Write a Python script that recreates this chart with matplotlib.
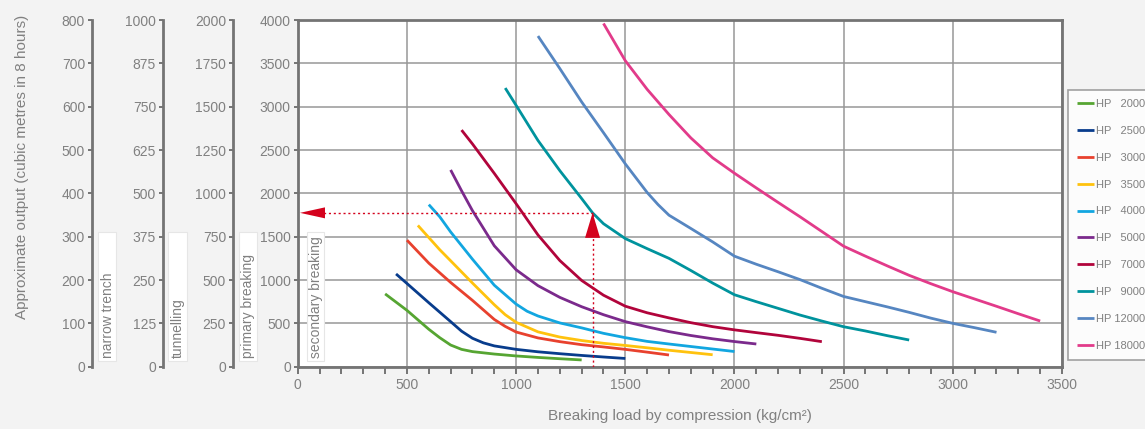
import matplotlib
matplotlib.use("Agg")
import matplotlib.pyplot as plt
from matplotlib.patches import Rectangle
from matplotlib.ticker import MultipleLocator

# ---------------- data ----------------
models = ["2000", "2500", "3000", "3500", "4000", "5000", "7000", "9000", "12000", "18000"]
colors = ["#56a532", "#083c8c", "#e8412e", "#ffc20e", "#12a6e0",
          "#7b2a8c", "#b1043b", "#00939d", "#5686c1", "#e23b8a"]

hp2000_x = [400, 500, 600, 650, 700, 750, 800, 900, 1000, 1100, 1200, 1300]
hp2000_y = [840, 650, 432, 335, 250, 200, 174, 146, 124, 107, 92, 78]

hp2500_x = [450, 500, 600, 700, 750, 800, 850, 900, 1000, 1100, 1200, 1300, 1400, 1500]
hp2500_y = [1070, 960, 738, 520, 410, 328, 275, 240, 200, 172, 150, 130, 112, 95]

hp3000_x = [500, 600, 700, 800, 900, 950, 1000, 1100, 1200, 1300, 1400, 1500, 1600, 1700]
hp3000_y = [1460, 1195, 972, 765, 545, 465, 400, 332, 289, 254, 228, 200, 168, 135]

hp3500_x = [550, 600, 650, 700, 800, 900, 950, 1000, 1100, 1200, 1300, 1400, 1500, 1600,
            1700, 1800, 1900]
hp3500_y = [1630, 1490, 1350, 1222, 965, 715, 600, 512, 402, 342, 302, 270, 245, 218,
            190, 164, 138]

hp4000_x = [600, 650, 700, 800, 900, 1000, 1050, 1100, 1200, 1300, 1400, 1500, 1600, 1700,
            1800, 1900, 2000]
hp4000_y = [1870, 1730, 1555, 1240, 940, 722, 640, 585, 505, 448, 385, 335, 292, 262,
            233, 204, 175]

hp5000_x = [700, 750, 800, 900, 1000, 1100, 1200, 1300, 1400, 1500, 1600, 1700, 1800, 1900,
            2000, 2100]
hp5000_y = [2270, 2030, 1800, 1395, 1118, 935, 800, 692, 600, 520, 460, 405, 360, 322,
            290, 262]

hp7000_x = [750, 800, 900, 1000, 1100, 1200, 1300, 1400, 1500, 1600, 1700, 1800, 1900, 2000,
            2100, 2200, 2300, 2400]
hp7000_y = [2730, 2570, 2230, 1880, 1520, 1225, 995, 825, 698, 622, 563, 508, 462, 425,
            393, 362, 327, 289]

hp9000_x = [950, 1000, 1100, 1200, 1300, 1350, 1400, 1500, 1600, 1700, 1800, 1900, 2000,
            2100, 2200, 2300, 2400, 2500, 2600, 2700, 2800]
hp9000_y = [3215, 3015, 2610, 2262, 1940, 1775, 1650, 1478, 1362, 1250, 1110, 965, 830,
            750, 673, 596, 527, 461, 412, 358, 308]

hp12000_x = [1100, 1200, 1300, 1400, 1500, 1600, 1650, 1700, 1800, 1900, 2000, 2100, 2200,
             2300, 2400, 2500, 2600, 2700, 2800, 2900, 3000, 3100, 3200]
hp12000_y = [3815, 3440, 3055, 2700, 2340, 2010, 1870, 1748, 1595, 1440, 1275, 1182, 1095,
             1005, 905, 810, 750, 690, 627, 560, 500, 450, 397]

hp18000_x = [1400, 1500, 1600, 1700, 1800, 1900, 2000, 2100, 2200, 2300, 2400, 2500, 2600,
             2700, 2800, 2900, 3000, 3100, 3200, 3300, 3400]
hp18000_y = [3960, 3530, 3200, 2910, 2640, 2410, 2232, 2062, 1895, 1730, 1560, 1390, 1275,
             1163, 1054, 957, 865, 781, 697, 611, 527]

series_x = [hp2000_x, hp2500_x, hp3000_x, hp3500_x, hp4000_x,
            hp5000_x, hp7000_x, hp9000_x, hp12000_x, hp18000_x]
series_y = [hp2000_y, hp2500_y, hp3000_y, hp3500_y, hp4000_y,
            hp5000_y, hp7000_y, hp9000_y, hp12000_y, hp18000_y]

# example reading
example_load = 1350
example_output = 1775

# extra output scales
scale_maxes = [800, 1000, 2000]
scale_ticks = [[0, 100, 200, 300, 400, 500, 600, 700, 800],
               [0, 125, 250, 375, 500, 625, 750, 875, 1000],
               [0, 250, 500, 750, 1000, 1250, 1500, 1750, 2000]]
scale_labels = ["narrow trench", "tunnelling", "primary breaking"]

# ---------------- style ----------------
BG = "#f3f3f3"
TXT = "#808080"
SPINE = "#747474"
GRID = "#979797"
RED = "#d4021d"
TICKFONT = ["Liberation Sans", "DejaVu Sans"]
NARROW = ["Liberation Sans Narrow", "Liberation Sans", "DejaVu Sans"]

W, H = 1145, 429
fig = plt.figure(figsize=(W / 100, H / 100), dpi=100, facecolor=BG)

def fx(px):
    return px / W

def fy(py):
    return 1 - py / H

x_left, x_right = 297.8, 1062.0
y_top, y_bot = 20.0, 366.7
ax = fig.add_axes([fx(x_left), fy(y_bot), fx(x_right) - fx(x_left), fy(y_top) - fy(y_bot)])
ax.set_facecolor("white")
ax.set_xlim(0, 3500)
ax.set_ylim(0, 4000)
ax.xaxis.set_major_locator(MultipleLocator(500))
ax.xaxis.set_minor_locator(MultipleLocator(100))
ax.yaxis.set_major_locator(MultipleLocator(500))
ax.grid(True, which="major", color=GRID, lw=1.1, zorder=0)
ax.set_axisbelow(True)
for s in ax.spines.values():
    s.set_color(SPINE)
    s.set_linewidth(2.0)
ax.tick_params(axis="x", which="both", direction="out", length=5, width=1.4,
               color=SPINE, labelcolor=TXT, labelsize=10, pad=3)
ax.tick_params(axis="y", which="major", direction="out", length=3, width=1.4,
               color=SPINE, labelcolor=TXT, labelsize=10, pad=2)
for lab in ax.get_xticklabels() + ax.get_yticklabels():
    lab.set_family(TICKFONT)

handles = []
for m, c, xs, ys in zip(models, colors, series_x, series_y):
    label = ("HP " + m) if len(m) == 5 else ("HP \u2007" + m)
    h, = ax.plot(xs, ys, color=c, lw=2.0, solid_capstyle="butt", solid_joinstyle="round",
                 zorder=3, label=label)
    handles.append(h)

# example dotted reading lines + arrow heads
ax.plot([example_load, example_load], [0, example_output], color=RED, lw=1.0,
        ls=(0, (1.5, 2)), zorder=4)
ax.plot([example_load, 40], [example_output, example_output], color=RED, lw=1.0,
        ls=(0, (1.5, 2)), zorder=4)
ax.annotate("", xy=(example_load, example_output), xytext=(example_load, example_output - 215),
            arrowprops=dict(arrowstyle="-|>,head_length=1.0,head_width=0.3", color=RED,
                            lw=0, mutation_scale=18, shrinkA=0, shrinkB=0), zorder=5)
ax.annotate("", xy=(10, example_output), xytext=(90, example_output),
            arrowprops=dict(arrowstyle="-|>,head_length=1.0,head_width=0.22", color=RED,
                            lw=0, mutation_scale=18, shrinkA=0, shrinkB=0), zorder=5)

# extra output scales on the left
spine_px = [92.0, 163.0, 233.0]
for sp, mx, tks in zip(spine_px, scale_maxes, scale_ticks):
    a = fig.add_axes([fx(sp), fy(y_bot), 0.0005, fy(y_top) - fy(y_bot)])
    a.patch.set_alpha(0)
    a.set_ylim(0, mx)
    a.set_xticks([])
    a.set_yticks(tks)
    a.set_yticklabels([str(t) for t in tks], family=TICKFONT)
    for k in ["top", "right", "bottom"]:
        a.spines[k].set_visible(False)
    a.spines["left"].set_color(SPINE)
    a.spines["left"].set_linewidth(2.0)
    a.tick_params(axis="y", direction="out", length=3, width=1.4, color=SPINE,
                  labelcolor=TXT, labelsize=10, pad=2)

# white boxed labels
box_px = [(98.3, 116.0, scale_labels[0]), (168.3, 186.5, scale_labels[1]),
          (239.0, 256.7, scale_labels[2]), (306.7, 324.3, "secondary breaking")]
for x0, x1, txt in box_px:
    fig.patches.append(Rectangle((fx(x0), fy(360.5)), fx(x1) - fx(x0), fy(231.5) - fy(360.5),
                                 transform=fig.transFigure, facecolor="white",
                                 edgecolor="#e6e6e6", lw=0.8, zorder=6))
    fig.text(fx((x0 + x1) / 2 + 0.5), fy(358), txt, rotation=90, ha="center", va="bottom",
             color=TXT, fontsize=10, family=NARROW, zorder=7)

fig.text(fx(22), fy(167), "Approximate output (cubic metres in 8 hours)", rotation=90,
         ha="center", va="center", color=TXT, fontsize=11, family=NARROW)
fig.text(fx(680), fy(416), "Breaking load by compression (kg/cm\u00b2)",
         ha="center", va="center", color=TXT, fontsize=11, family=NARROW)

leg = fig.legend(handles=handles, loc="upper left", bbox_to_anchor=(fx(1068), fy(90)),
                 bbox_transform=fig.transFigure, frameon=True, fancybox=False,
                 prop={"family": TICKFONT, "size": 8},
                 handlelength=1.5, handletextpad=0.25, labelspacing=1.52,
                 borderpad=0.8, borderaxespad=0)
leg.get_frame().set_edgecolor("#8a8a8a")
leg.get_frame().set_linewidth(1.2)
for t in leg.get_texts():
    t.set_color(TXT)

fig.savefig("out.png", dpi=100, facecolor=BG)
